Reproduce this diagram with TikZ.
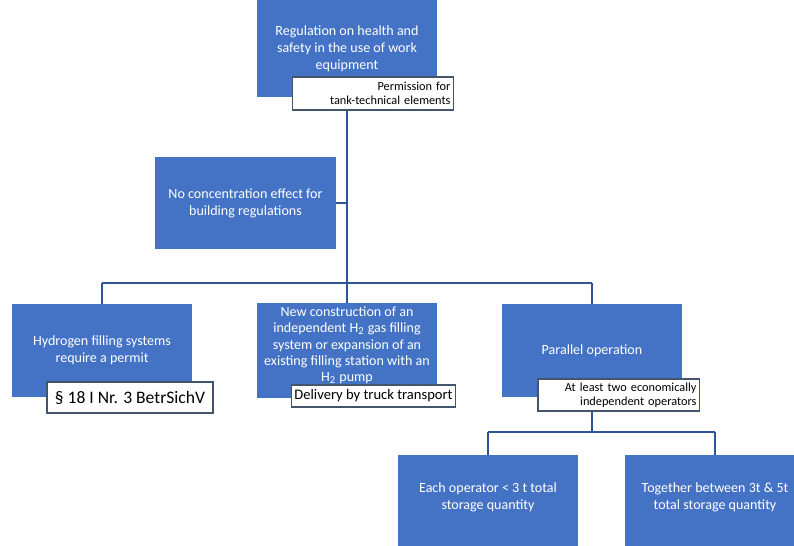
\documentclass[tikz,border=0pt]{standalone}
\usepackage{fontspec}
\setmainfont{Carlito}
\usetikzlibrary{positioning}
\definecolor{boxblue}{HTML}{4472C4}
\definecolor{linkblue}{HTML}{2F5597}
\definecolor{tagframe}{HTML}{44546A}

\begin{document}
\begin{tikzpicture}[x=0.02cm,y=-0.02cm,
  blk/.style={rectangle,fill=boxblue,text=white,align=center,minimum width=3.6cm,minimum height=1.86cm,font=\fontsize{8}{9.6}\selectfont,inner sep=2pt},
  tag/.style={rectangle,draw=tagframe,fill=white,line width=0.7pt,text=black,font=\fontsize{7}{8.2}\selectfont,inner sep=1.5pt},
  ln/.style={draw=linkblue,line width=1.2pt}
]
\clip (0,0) rectangle (794,545);
\fill[white] (0,0) rectangle (794,545);

% top level
\node[blk,minimum height=1.94cm] (reg) at (347,48.5) {Regulation on health and\\safety in the use of work\\equipment};
\node[tag,text width=3.1cm,align=right,minimum height=0.66cm] (regtag) at (373,93.5) {Permission for\\tank-technical elements};
\node[blk,minimum width=3.62cm,minimum height=1.84cm] (nocon) at (245.5,203) {No concentration effect for\\building regulations};
\coordinate (bar) at (347,283);
\draw[ln] (regtag.south -| reg) -- (bar);
\draw[ln] (nocon.east) -- (nocon.east -| bar);

% second level
\node[blk] (hyd) at (102,350.5) {Hydrogen filling systems\\require a permit};
\node[tag,minimum width=3.32cm,minimum height=0.62cm,font=\fontsize{10}{12}\selectfont] (hydtag) at (130,397.5) {\S\ 18 I Nr. 3 BetrSichV};
\node[blk,font=\fontsize{8}{9.2}\selectfont] (newc) at (347,350.5) {New construction of an\\independent H\textsubscript{2} gas filling\\system or expansion of an\\existing filling station with an\\H\textsubscript{2} pump\\[-2pt]\mbox{}};
\node[tag,minimum width=3.26cm,minimum height=0.44cm,font=\fontsize{8.3}{9.5}\selectfont] (newctag) at (373.5,396) {Delivery by truck transport};
\node[blk] (par) at (592,350.5) {Parallel operation};
\node[tag,text width=3.12cm,align=right,minimum height=0.64cm] (partag) at (618.5,395) {At least two economically\\independent operators};
\draw[ln] (hyd.north |- bar) -- (par.north |- bar);
\draw[ln] (hyd.north |- bar) -- (hyd.north);
\draw[ln] (bar) -- (newc.north);
\draw[ln] (par.north |- bar) -- (par.north);

% third level
\node[blk] (each) at (488,501.5) {Each operator < 3 t total\\storage quantity\\[-3pt]\mbox{}};
\node[blk] (both) at (715,501.5) {Together between 3t \& 5t\\total storage quantity\\[-3pt]\mbox{}};
\coordinate (bar2) at (592,432);
\draw[ln] (partag.south -| par) -- (bar2);
\draw[ln] (each.north |- bar2) -- (both.north |- bar2);
\draw[ln] (each.north |- bar2) -- (each.north);
\draw[ln] (both.north |- bar2) -- (both.north);
\end{tikzpicture}
\end{document}
